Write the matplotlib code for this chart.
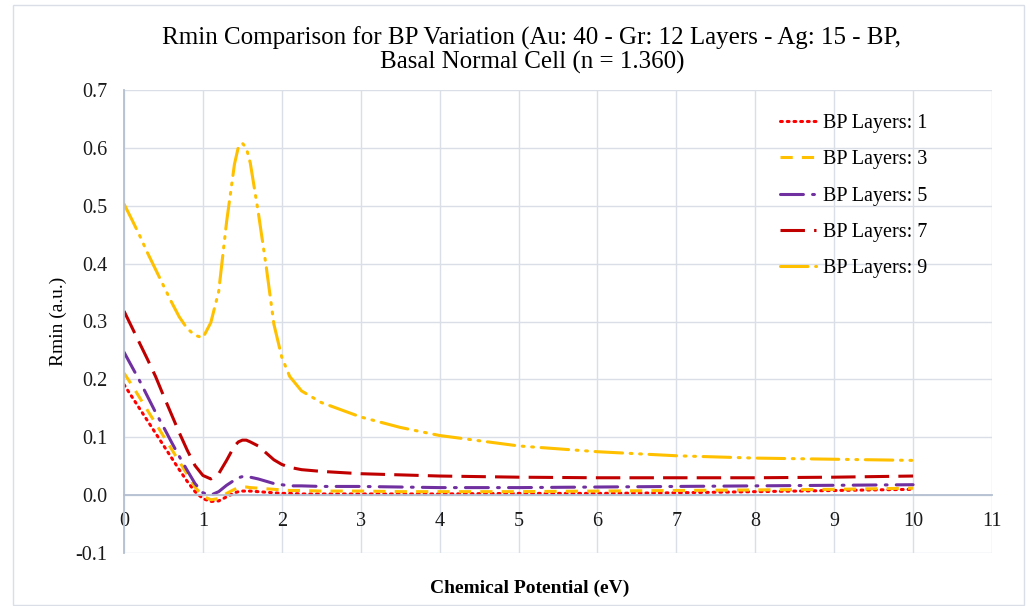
import matplotlib.pyplot as plt
from matplotlib.patches import Rectangle

# Chemical potential (eV)
mu = [0, 0.1, 0.2, 0.3, 0.4, 0.5, 0.6, 0.7, 0.8, 0.9, 1.0, 1.1, 1.2, 1.3, 1.4, 1.45,
      1.5, 1.55, 1.6, 1.7, 1.8, 1.9, 2.0, 2.1, 2.25, 2.5, 3, 3.5, 4, 5, 6, 7, 8, 9, 10]

bp1 = [0.191, 0.170, 0.149, 0.128, 0.107, 0.086, 0.065, 0.044, 0.024, 0.006, -0.006,
       -0.011, -0.010, -0.003, 0.004, 0.006, 0.007, 0.007, 0.007, 0.006, 0.005, 0.004,
       0.003, 0.003, 0.002, 0.002, 0.002, 0.002, 0.002, 0.003, 0.003, 0.004, 0.006,
       0.008, 0.010]
bp3 = [0.211, 0.190, 0.168, 0.146, 0.124, 0.102, 0.080, 0.058, 0.036, 0.014, -0.002,
       -0.008, -0.006, 0.003, 0.010, 0.013, 0.014, 0.014, 0.013, 0.012, 0.011, 0.010,
       0.009, 0.008, 0.008, 0.007, 0.007, 0.006, 0.006, 0.006, 0.007, 0.008, 0.009,
       0.010, 0.012]
bp5 = [0.247, 0.222, 0.197, 0.170, 0.143, 0.118, 0.092, 0.067, 0.043, 0.020, 0.004,
       0.000, 0.006, 0.017, 0.026, 0.030, 0.032, 0.032, 0.031, 0.028, 0.024, 0.020,
       0.018, 0.016, 0.016, 0.015, 0.015, 0.014, 0.013, 0.013, 0.014, 0.015, 0.016,
       0.017, 0.018]
bp7 = [0.318, 0.290, 0.262, 0.234, 0.205, 0.172, 0.140, 0.108, 0.078, 0.051, 0.034,
       0.028, 0.037, 0.060, 0.085, 0.092, 0.095, 0.095, 0.092, 0.085, 0.073, 0.061,
       0.053, 0.048, 0.044, 0.041, 0.037, 0.035, 0.033, 0.031, 0.030, 0.030, 0.030,
       0.031, 0.033]
bp9 = [0.503, 0.476, 0.448, 0.418, 0.390, 0.362, 0.334, 0.308, 0.288, 0.276, 0.272,
       0.298, 0.352, 0.472, 0.572, 0.602, 0.608, 0.600, 0.574, 0.490, 0.397, 0.295,
       0.238, 0.205, 0.180, 0.160, 0.135, 0.117, 0.103, 0.085, 0.075, 0.068, 0.064,
       0.062, 0.060]

labels = ['BP Layers: 1', 'BP Layers: 3', 'BP Layers: 5', 'BP Layers: 7', 'BP Layers: 9']

plt.rcParams['font.family'] = ['Liberation Serif', 'DejaVu Serif']

fig = plt.figure(figsize=(10.3, 6.06), dpi=100)
ax = fig.add_axes([124 / 1030, 1 - 553 / 606, (992 - 124) / 1030, (553 - 90) / 606])

lw = 2.2
ax.plot(mu, bp1, color='#FF0000', lw=lw, linestyle=(0, (0.6, 1.6)),
        dash_capstyle='round', label=labels[0])
ax.plot(mu, bp3, color='#FFC000', lw=lw, linestyle=(0, (4, 3)), label=labels[1])
ax.plot(mu, bp5, color='#7030A0', lw=lw, linestyle=(0, (7.5, 3, 0.6, 3)),
        dash_capstyle='round', label=labels[2])
ax.plot(mu, bp7, color='#C00000', lw=lw, linestyle=(0, (8, 3)), label=labels[3])
ax.plot(mu, bp9, color='#FFC000', lw=lw, linestyle=(0, (9, 2.5, 0.6, 2.5, 0.6, 2.5)),
        dash_capstyle='round', label=labels[4])

ax.set_xlim(0, 11)
ax.set_ylim(-0.1, 0.7)
ax.set_xticks(range(0, 12))
yt = [-0.1, 0, 0.1, 0.2, 0.3, 0.4, 0.5, 0.6, 0.7]
ax.set_yticks(yt)
ax.set_yticklabels(['%.1f' % v for v in yt])
ax.grid(True, color='#D9DEE7', lw=1)
ax.set_axisbelow(True)

for s in ['top', 'right']:
    ax.spines[s].set_visible(False)
ax.spines['bottom'].set_position(('data', 0))
ax.spines['bottom'].set_color('#B4BFD0')
ax.spines['bottom'].set_linewidth(1.3)
ax.spines['left'].set_color('#B4BFD0')
ax.spines['left'].set_linewidth(1.3)
ax.tick_params(length=0, labelsize=14.5, colors='#1a1a1a')
ax.tick_params(axis='y', pad=12)
ax.tick_params(axis='x', pad=12)

ax.set_ylabel('Rmin (a.u.)', fontsize=14, labelpad=6)
fig.text(530 / 1030, 1 - 588 / 606, 'Chemical Potential (eV)', fontsize=14,
         fontweight='bold', ha='center', va='center')
fig.text(532 / 1030, 1 - 50 / 606,
         'Rmin Comparison for BP Variation (Au: 40 - Gr: 12 Layers - Ag: 15 - BP,\nBasal Normal Cell (n = 1.360)',
         fontsize=18, ha='center', va='center', linespacing=1.05)

leg = ax.legend(loc='upper left', frameon=False, fontsize=14.5,
                handlelength=1.8, handletextpad=0.35, labelspacing=0.85)
leg.set_bbox_to_anchor((762 / 1030, 1 - 96 / 606), transform=fig.transFigure)

fig.patches.append(Rectangle((13 / 1030, 1 / 606), 1011 / 1030, 600 / 606,
                             transform=fig.transFigure, fill=False,
                             edgecolor='#D9DEE7', lw=1))

plt.savefig('out.png', dpi=100)
